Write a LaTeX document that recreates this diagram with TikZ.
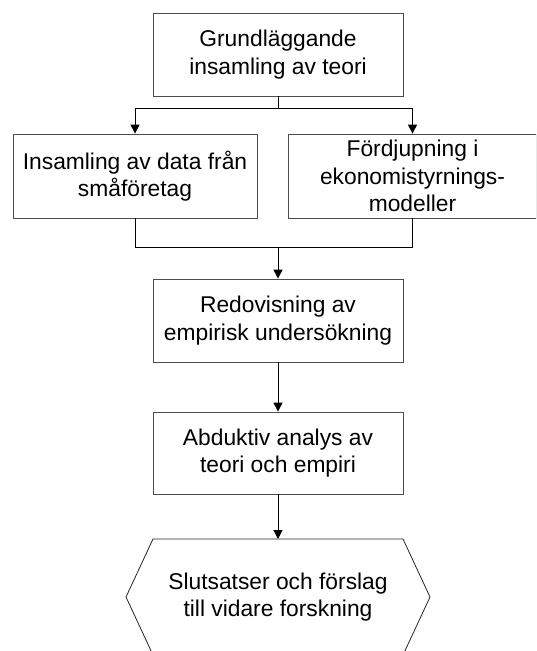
\documentclass[tikz,border=0pt]{standalone}
\usepackage{fontspec}
\setmainfont{Liberation Sans}
\usetikzlibrary{arrows.meta}
\begin{document}
\begin{tikzpicture}[x=1pt,y=-1pt,
  box/.style={draw=black!70, line width=0.8pt, align=center, inner sep=0pt,
    font=\fontsize{22.8}{27.5}\selectfont},
  conn/.style={draw=black, line width=1pt},
  arr/.style={conn, -{Triangle[width=9pt,length=9pt]}}]
\clip (0,0) rectangle (536,651);
\useasboundingbox (0,0) rectangle (536,651);
\fill[white] (0,0) rectangle (536,651);
\node[box, minimum width=250pt, minimum height=83pt] (b1) at (278,54.5) {Grundläggande\\insamling av teori};
\node[box, minimum width=244pt, minimum height=84pt] (b2) at (135,176) {Insamling av data från\\småföretag};
\node[box, minimum width=248pt, minimum height=84pt] (b3) at (412.5,176) {Fördjupning i\\ekonomistyrnings-\\modeller};
\node[box, minimum width=250pt, minimum height=83pt] (b4) at (278,320.5) {Redovisning av\\empirisk undersökning};
\node[box, minimum width=250pt, minimum height=82pt] (b5) at (278,453) {Abduktiv analys av\\teori och empiri};
\node[box, draw=none] (hex) at (278,597) {Slutsatser och förslag\\till vidare forskning};
\coordinate (htop) at (278,539);
\draw[line width=0.8pt, draw=black!85] (153,539) -- (403,539) -- (430,597) -- (403,655) -- (153,655) -- (126,597) -- cycle;
\coordinate (j1) at (278,108);
\coordinate (j2) at (278,247);
\draw[conn] (b1.south) -- (j1);
\draw[arr] (j1) -| (b2.north);
\draw[arr] (j1) -| (b3.north);
\draw[conn] (b2.south) |- (j2);
\draw[conn] (b3.south) |- (j2);
\draw[arr] (j2) -- (b4.north);
\draw[arr] (b4.south) -- (b5.north);
\draw[arr] (b5.south) -- (htop);
\end{tikzpicture}
\end{document}
